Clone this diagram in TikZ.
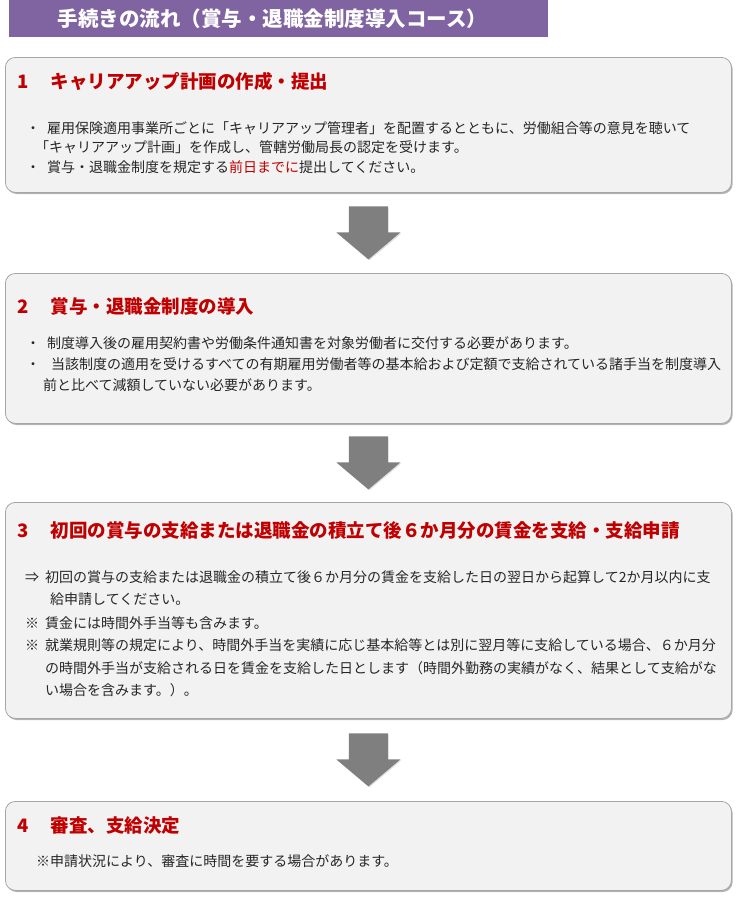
\documentclass[tikz,border=0pt]{standalone}
\usepackage{fontspec}
\setmainfont{Noto Sans CJK JP}
\usetikzlibrary{shadows,calc}

\definecolor{titlepurple}{HTML}{8064A2}
\definecolor{headred}{HTML}{C00000}
\definecolor{panelgray}{HTML}{F2F2F2}
\definecolor{arrowgray}{HTML}{7F7F7F}

\tikzset{
  panel/.style={draw=black!35, line width=0.8pt, fill=panelgray, rounded corners=10pt,
    anchor=north west, minimum width=726pt, inner sep=0pt,
    drop shadow={shadow xshift=1.2pt, shadow yshift=-1.6pt, fill=black!50, opacity=0.6}},
  flowarrow/.style={fill=arrowgray,
    drop shadow={shadow xshift=1pt, shadow yshift=-1pt, fill=black!40, opacity=0.3}},
  headline/.style={anchor=base west, inner sep=0pt, text=headred,
    font=\fontsize{18.5}{20}\selectfont\bfseries},
  bodyline/.style={anchor=base west, inner sep=0pt, text=black!85,
    font=\fontsize{14}{16}\selectfont},
}
\newcommand{\mk}[2][21pt]{\makebox[#1][l]{#2}}
% block arrow pointing down, halfway between two panels
\newcommand{\flowdown}[3]{%
  \coordinate (#1) at ($(#2.south)!0.5!(#3.north)$);
  \path[flowarrow] ($(#1)+(-19.5,-26.5)$) -- ++(39,0) -- ++(0,26) -- ++(12.5,0)
    -- ($(#1)+(0,26.5)$) -- ($(#1)+(-32,-0.5)$) -- ++(12.5,0) -- cycle;}

\begin{document}
\begin{tikzpicture}[x=1pt,y=-1pt]
    \useasboundingbox (0,0) rectangle (737,898);

    % title bar
    \node[fill=titlepurple, anchor=north west, minimum width=539pt, minimum height=37pt,
      inner sep=0pt, text=white, font=\fontsize{20.5}{22}\selectfont\bfseries]
      (title) at (9,0) {\hspace{-12pt}手続きの流れ（賞与・退職金制度導入コース）};

    % step panels
    \node[panel, minimum height=135pt] (step1) at (5,57) {};
    \node[panel, minimum height=150pt] (step2) at (5,273) {};
    \node[panel, minimum height=216pt] (step3) at (5,502) {};
    \node[panel, minimum height=89pt]  (step4) at (5,801) {};

    % arrows between panels
    \flowdown{arr12}{step1}{step2}
    \flowdown{arr23}{step2}{step3}
    \flowdown{arr34}{step3}{step4}

    % 1
    \node[headline] (h1) at (17,88) {1\hspace{1.2em}キャリアアップ計画の作成・提出};
    \node[bodyline] (t11) at (26,133) {\mk{・}雇用保険適用事業所ごとに「キャリアアップ管理者」を配置するとともに、労働組合等の意見を聴いて};
    \node[bodyline] (t12) at (35,152) {「キャリアアップ計画」を作成し、管轄労働局長の認定を受けます。};
    \node[bodyline] (t13) at (26,172) {\mk{・}賞与・退職金制度を規定する\textcolor{headred}{前日までに}提出してください。};

    % 2
    \node[headline] (h2) at (17,313) {2\hspace{1.2em}賞与・退職金制度の導入};
    \node[bodyline] (t21) at (26,348) {\mk{・}制度導入後の雇用契約書や労働条件通知書を対象労働者に交付する必要があります。};
    \node[bodyline] (t22) at (26,369) {\mk[25pt]{・}当該制度の適用を受けるすべての有期雇用労働者等の基本給および定額で支給されている諸手当を制度導入};
    \node[bodyline] (t23) at (43,390) {前と比べて減額していない必要があります。};

    % 3
    \node[headline] (h3) at (17,537) {3\hspace{1.2em}初回の賞与の支給または退職金の積立て後６か月分の賃金を支給・支給申請};
    \node[bodyline] (t31) at (25,582) {\mk[20pt]{⇒}初回の賞与の支給または退職金の積立て後６か月分の賃金を支給した日の翌日から起算して2か月以内に支};
    \node[bodyline] (t32) at (50,604) {給申請してください。};
    \node[bodyline] (t33) at (25,628) {\mk[20pt]{※}賃金には時間外手当等も含みます。};
    \node[bodyline] (t34) at (25,650) {\mk[20pt]{※}就業規則等の規定により、時間外手当を実績に応じ基本給等とは別に翌月等に支給している場合、６か月分};
    \node[bodyline] (t35) at (45,673) {の時間外手当が支給される日を賃金を支給した日とします（時間外勤務の実績がなく、結果として支給がな};
    \node[bodyline] (t36) at (45,695) {い場合を含みます。）。};

    % 4
    \node[headline] (h4) at (17,832) {4\hspace{1.2em}審査、支給決定};
    \node[bodyline] (t41) at (36,866) {※申請状況により、審査に時間を要する場合があります。};
\end{tikzpicture}
\end{document}
